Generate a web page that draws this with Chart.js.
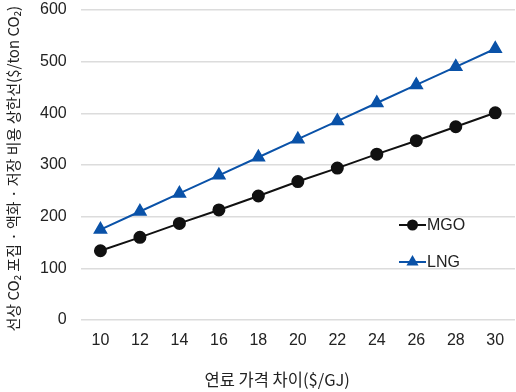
<!DOCTYPE html>
<html>
<head>
<meta charset="utf-8">
<script src="https://cdn.jsdelivr.net/npm/chart.js@4.4.3/dist/chart.umd.min.js"></script>
<style>
  html, body { margin:0; padding:0; background:#fff; }
  #wrap { width:516px; height:392px; }
</style>
</head>
<body>
<div id="wrap"><canvas id="c"></canvas></div>
<script>
/* fuel price gap vs CO2 capture cost ceiling */
const categories = ['10','12','14','16','18','20','22','24','26','28','30'];
const mgoValues  = [134, 160, 187, 213, 240, 268, 294, 321, 347, 374, 401];
const lngValues  = [175, 210, 245, 280, 315, 350, 385, 420, 455, 490, 525];
const yTicks     = [0, 100, 200, 300, 400, 500, 600];

const FONT = "'Liberation Sans', Arial, sans-serif";
const KFONT = "'Noto Sans CJK KR', 'Noto Sans', sans-serif";

// legend drawn inside the plot, right side
const insideLegend = {
  id: 'insideLegend',
  afterDraw(chart) {
    const ctx = chart.ctx;
    const items = [
      { text: 'MGO', color: '#111', style: 'circle', y: 225 },
      { text: 'LNG', color: '#0a52a8', style: 'triangle', y: 262 },
    ];
    ctx.save();
    items.forEach(it => {
      const x0 = 399, x1 = 426;
      ctx.strokeStyle = it.color; ctx.lineWidth = 2;
      ctx.beginPath(); ctx.moveTo(x0, it.y); ctx.lineTo(x1, it.y); ctx.stroke();
      Chart.helpers.drawPoint(ctx, { pointStyle: it.style, radius: it.style === 'circle' ? 4.5 : 5, rotation: 0, borderWidth: 1 }, (x0 + x1) / 2, it.y);
      ctx.fillStyle = it.color;
      ctx.fill();
      ctx.fillStyle = '#222';
      ctx.font = "16px " + FONT;
      ctx.textBaseline = 'middle';
      ctx.fillText(it.text, x1 + 1, it.y + 1);
    });
    ctx.restore();
  }
};

new Chart(document.getElementById('c'), {
  type: 'line',
  data: {
    labels: categories,
    datasets: [
      { label: 'MGO', data: mgoValues, borderColor: '#111', backgroundColor: '#111',
        borderWidth: 2, pointStyle: 'circle', pointRadius: 5.5, pointHoverRadius: 5.5, tension: 0 },
      { label: 'LNG', data: lngValues, borderColor: '#0a52a8', backgroundColor: '#0a52a8',
        borderWidth: 2, pointStyle: 'triangle', pointRadius: 6.5, pointHoverRadius: 6.5, tension: 0 }
    ]
  },
  options: {
    responsive: true,
    maintainAspectRatio: false,
    animation: false,
    layout: { autoPadding: false, padding: { top: 10, right: 1, left: 4, bottom: 2 } },
    plugins: { legend: { display: false }, tooltip: { enabled: false } },
    scales: {
      x: {
        offset: true,
        afterFit: s => { s.paddingRight = 0; },
        grid: { display: false, drawTicks: false },
        border: { display: false },
        ticks: { color: '#222', font: { family: FONT, size: 16 }, padding: 11 },
        title: { display: true, text: '연료 가격 차이($/GJ)\u2002\u2002\u2002\u2002\u2002', color: '#222',
          font: { family: KFONT, size: 16.5 }, padding: { top: 9, bottom: 0 } }
      },
      y: {
        min: 0, max: 600,
        afterFit: s => { s.paddingTop = 0; },
        afterBuildTicks: s => { s.ticks = yTicks.map(v => ({ value: v })); },
        grid: { color: '#dcdcdc', lineWidth: 1.5, drawTicks: false },
        border: { display: false },
        ticks: { color: '#222', font: { family: FONT, size: 16 }, padding: 14 },
        title: { display: true, text: '선상 CO₂ 포집 · 액화 · 저장 비용 상한선($/ton CO₂)\u2002', color: '#222',
          font: { family: KFONT, size: 15 }, padding: { top: 0, bottom: 4 } }
      }
    }
  },
  plugins: [insideLegend]
});
</script>
</body>
</html>
